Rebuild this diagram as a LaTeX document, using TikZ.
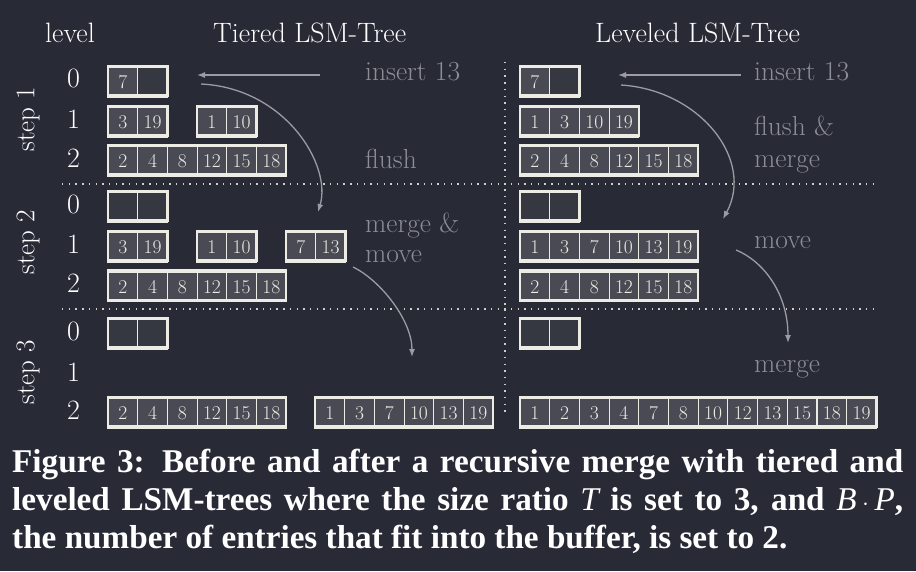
\documentclass[tikz,border=0pt]{standalone}
\usepackage{fontspec}
\newfontfamily\capfont{Liberation Serif}
\usetikzlibrary{arrows.meta}
\definecolor{bg}{HTML}{282A36}
\definecolor{fullcell}{HTML}{494A54}
\definecolor{emptycell}{HTML}{353741}
\definecolor{edge}{HTML}{ECECE4}
\definecolor{notec}{HTML}{8C8D95}
\definecolor{arrowc}{HTML}{9B9CA3}
\newcommand{\cellw}{29.7}
\newcommand{\cellh}{29.5}
% one run of an LSM level: name, left, top, number of cells, entries
\newcommand{\lsmrun}[5]{%
  \foreach \v [count=\i] in {#5} {
    \edef\lsmval{\v}%
    \ifx\lsmval\empty\def\lsmfill{emptycell}\else\def\lsmfill{fullcell}\fi
    \node[cell,fill=\lsmfill] (#1-\i) at ({#2+(\i-0.5)*\cellw},{#3+\cellh/2}) {\v};
  }
  \draw[frame] (#2,#3) rectangle ++({#4*\cellw},\cellh);
}

\begin{document}
\begin{tikzpicture}[x=1pt,y=-1pt,
  cell/.style={draw=edge,line width=1.1pt,inner sep=0pt,minimum width=\cellw pt,
    minimum height=\cellh pt,text=edge,font=\fontsize{19.5}{19.5}\selectfont,yshift=-1.5pt},
  frame/.style={draw=edge,line width=2.2pt},
  lbl/.style={text=white,inner sep=0pt,font=\fontsize{28}{28}\selectfont},
  notetext/.style={text=notec,inner sep=0pt,anchor=base west,font=\fontsize{27.5}{27.5}\selectfont},
  flow/.style={draw=arrowc,line width=1.3pt,-{Latex[length=8pt,width=6pt]}},
  dots/.style={draw=edge!85!bg,line width=1.4pt,dash pattern=on 1.4pt off 5.3pt},
  captext/.style={text=white,inner sep=0pt,anchor=base west,font=\capfont\bfseries\fontsize{33.2}{38}\selectfont}]
\fill[bg] (0,0) rectangle (916,571);
\useasboundingbox (0,0) rectangle (916,571);

% headings
\node[lbl,anchor=base west] (level) at (45,42) {level};
\node[lbl,anchor=base west] (tiered) at (213,42) {Tiered LSM-Tree};
\node[lbl,anchor=base west] (leveled) at (595,42) {Leveled LSM-Tree};
\foreach \lv/\yb [count=\k] in {0/87,1/128,2/167,0/213,1/253,2/292,0/340,1/381,2/419}
  \node[lbl,anchor=base] (lev\k) at (73.5,\yb) {\lv};
\foreach \s/\yc in {1/119,2/242,3/372}
  \node[lbl,rotate=90,font=\fontsize{27}{27}\selectfont] (step\s) at (28,\yc) {step \s};

% separators
\draw[dots] (62,184) -- (875,184);
\draw[dots] (62,309) -- (875,309);
\draw[dots] (505,62) -- (505,416);

% tiered
\lsmrun{t10}{108}{66}{2}{7,{}}
\lsmrun{t11a}{108}{106}{2}{3,19}
\lsmrun{t11b}{197}{106}{2}{1,10}
\lsmrun{t12}{108}{145}{6}{2,4,8,12,15,18}
\lsmrun{t20}{108}{191}{2}{{},{}}
\lsmrun{t21a}{108}{231}{2}{3,19}
\lsmrun{t21b}{197}{231}{2}{1,10}
\lsmrun{t21c}{286}{231}{2}{7,13}
\lsmrun{t22}{108}{270.5}{6}{2,4,8,12,15,18}
\lsmrun{t30}{108}{318}{2}{{},{}}
\lsmrun{t32a}{108}{397}{6}{2,4,8,12,15,18}
\lsmrun{t32b}{315}{397}{6}{1,3,7,10,13,19}

% leveled
\lsmrun{l10}{520}{66}{2}{7,{}}
\lsmrun{l11}{520}{106}{4}{1,3,10,19}
\lsmrun{l12}{520}{145}{6}{2,4,8,12,15,18}
\lsmrun{l20}{520}{191}{2}{{},{}}
\lsmrun{l21}{520}{231}{6}{1,3,7,10,13,19}
\lsmrun{l22}{520}{270.5}{6}{2,4,8,12,15,18}
\lsmrun{l30}{520}{318}{2}{{},{}}
\lsmrun{l32}{520}{397}{12}{1,2,3,4,7,8,10,12,13,15,18,19}

% what happens
\node[notetext] (t-ins) at (365,80) {insert 13};
\node[notetext] (t-flush) at (365,168) {flush};
\node[notetext] (t-merge) at (365,232) {merge \&};
\node[notetext] (t-move) at (365,262) {move};
\node[notetext] (l-ins) at (754,80) {insert 13};
\node[notetext] (l-flush) at (754,135) {flush \&};
\node[notetext] (l-merge) at (754,167) {merge};
\node[notetext] (l-move) at (754,248) {move};
\node[notetext] (l-last) at (754,372) {merge};

\coordinate (ta) at (320,75);  \coordinate (tb) at (197,75);
\coordinate (tc) at (201,84);  \coordinate (td) at (318,212);
\coordinate (te) at (353,267); \coordinate (tf) at (412,357);
\coordinate (la) at (741,75);  \coordinate (lb) at (618,75);
\coordinate (lc) at (621,85);  \coordinate (ld) at (723,219);
\coordinate (le) at (736,250); \coordinate (lf) at (788,343);
\draw[flow] (ta) -- (tb);
\draw[flow] (tc) .. controls (285,88) and (332,165) .. (td);
\draw[flow] (te) .. controls (380,280) and (412,320) .. (tf);
\draw[flow] (la) -- (lb);
\draw[flow] (lc) .. controls (700,90) and (755,160) .. (ld);
\draw[flow] (le) .. controls (765,262) and (788,295) .. (lf);

% caption
\node[captext] (cap1) at (12,472) {\makebox[891pt][s]{Figure 3: Before and after a recursive merge with tiered and}};
\node[captext] (cap2) at (12,510) {\makebox[891pt][s]{leveled LSM-trees where the size ratio {\mdseries\itshape T} is set to 3, and {\mdseries\itshape B}\,$\cdot$\,{\mdseries\itshape P},}};
\node[captext] (cap3) at (12,548) {the number of entries that fit into the buffer, is set to 2.};
\end{tikzpicture}
\end{document}
